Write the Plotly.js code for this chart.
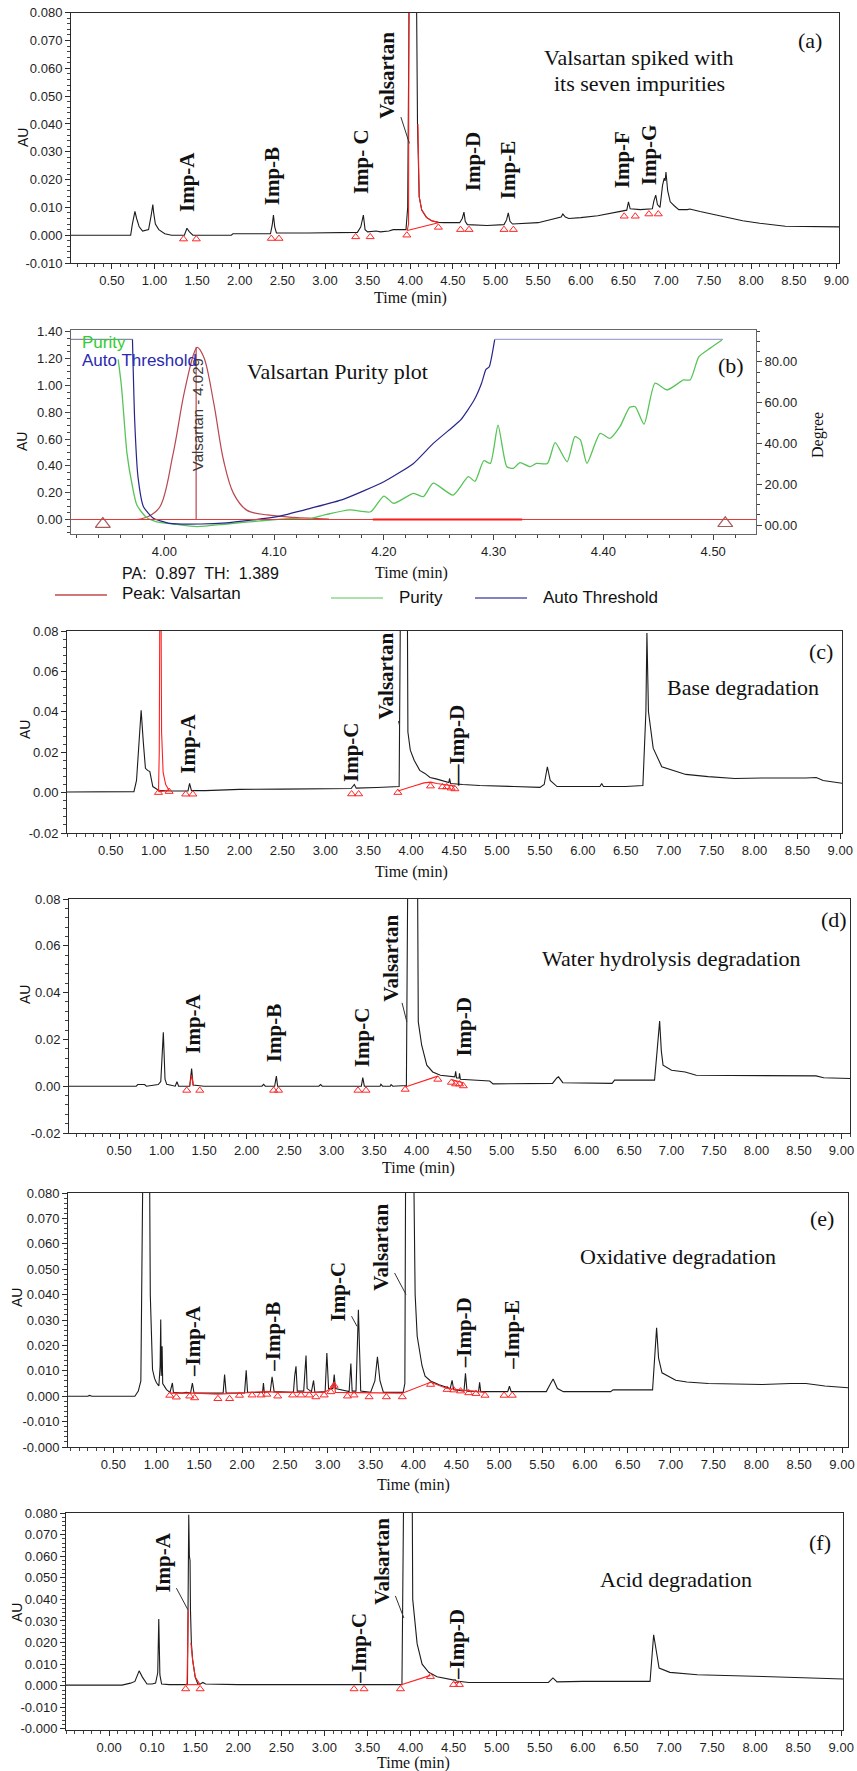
<!DOCTYPE html>
<html><head><meta charset="utf-8">
<script src="https://cdn.plot.ly/plotly-3.0.1.min.js"></script>
<style>html,body{margin:0;padding:0;background:#fff}#chart{width:857px;height:1771px}</style>
</head><body><div id="chart"></div>
<script>
// ================= DATA =================
const timeTicks = [0.5,1.0,1.5,2.0,2.5,3.0,3.5,4.0,4.5,5.0,5.5,6.0,6.5,7.0,7.5,8.0,8.5,9.0];
const timeTickText = ['0.50','1.00','1.50','2.00','2.50','3.00','3.50','4.00','4.50','5.00','5.50','6.00','6.50','7.00','7.50','8.00','8.50','9.00'];
const acidTimeTickText = ['0.00','0.10','1.50','2.00','2.50','3.00','3.50','4.00','4.50','5.00','5.50','6.00','6.50','7.00','7.50','8.00','8.50','9.00'];
const purityTimeTicks = [4.0,4.1,4.2,4.3,4.4,4.5];
const auTicksFine = [-0.01,0,0.01,0.02,0.03,0.04,0.05,0.06,0.07,0.08];
const auTicksCoarse = [-0.02,0,0.02,0.04,0.06,0.08];
const auTicksWide = [-0.02,-0.01,0,0.01,0.02,0.03,0.04,0.05,0.06,0.07,0.08];
const auTicksWideText = ['-0.000','-0.010','0.000','0.010','0.020','0.030','0.040','0.050','0.060','0.070','0.080'];
const purityAuTicks = [0,0.2,0.4,0.6,0.8,1.0,1.2,1.4];
const degreeTicks = [0,20,40,60,80];
const degreeTickText = ['00.00','20.00','40.00','60.00','80.00'];

// (a) Valsartan spiked with impurities  [time, AU]
const spikedTrace = [[0.02,0],[0.72,0],[0.74,0.004],[0.77,0.0086],[0.79,0.006],[0.82,0.003],[0.86,0.0015],[0.93,0.002],[0.96,0.007],[0.98,0.011],[0.99,0.008],[1.01,0.004],[1.05,0.002],[1.12,0.0005],[1.2,0],[1.35,0],[1.38,0.0025],[1.41,0.0012],[1.45,0],[1.9,0],[1.92,0.0005],[2.36,0.0005],[2.38,0.0035],[2.395,0.0072],[2.41,0.003],[2.43,0.0008],[2.8,0.0008],[3.1,0.001],[3.38,0.001],[3.42,0.003],[3.45,0.0072],[3.47,0.002],[3.5,0.0012],[3.6,0.0015],[3.65,0.0012],[3.75,0.0015],[3.8,0.002],[3.95,0.002],[3.97,0.01],[3.99,0.1],[4.07,0.1],[4.085,0.04],[4.095,0.02],[4.105,0.0138],[4.135,0.009],[4.19,0.0064],[4.25,0.0052],[4.33,0.0046],[4.4,0.0045],[4.58,0.0045],[4.61,0.006],[4.63,0.0083],[4.645,0.005],[4.67,0.0038],[4.9,0.0035],[5.1,0.0038],[5.13,0.0055],[5.15,0.008],[5.17,0.005],[5.2,0.004],[5.5,0.0045],[5.7,0.0058],[5.77,0.0065],[5.79,0.0076],[5.82,0.0065],[5.86,0.006],[6.0,0.0063],[6.2,0.007],[6.45,0.0083],[6.54,0.009],[6.56,0.012],[6.58,0.0095],[6.7,0.0092],[6.84,0.0095],[6.86,0.0125],[6.88,0.0144],[6.9,0.011],[6.93,0.01],[6.96,0.018],[6.98,0.0205],[6.99,0.0195],[7.0,0.0227],[7.02,0.016],[7.05,0.012],[7.1,0.0105],[7.15,0.0092],[7.25,0.0092],[7.28,0.0094],[7.4,0.0085],[7.67,0.0066],[7.9,0.0052],[8.1,0.0043],[8.4,0.0032],[9.03,0.003]];
const spikedRed = [[3.965,0.0017],[3.98,0.004],[3.985,0.1],null,[4.09,0.04],[4.095,0.02],[4.105,0.0138],[4.135,0.009],[4.19,0.0064],[4.25,0.0052],[4.33,0.0046],null,[3.965,0.0017],[4.33,0.0045]];
const spikedMarks = [[1.34,-0.0014],[1.49,-0.0014],[2.37,-0.0012],[2.46,-0.0012],[3.36,-0.0006],[3.53,-0.0006],[3.96,0],[4.33,0.0028],[4.59,0.002],[4.69,0.002],[5.10,0.002],[5.21,0.002],[6.51,0.0068],[6.64,0.0068],[6.80,0.0076],[6.91,0.0076]];
const spikedLabels = [
  {t:'Imp-A', x:1.38, y:0.0191}, {t:'Imp-B', x:2.378, y:0.0212}, {t:'Imp- C', x:3.423, y:0.0263},
  {t:'Imp-D', x:4.737, y:0.0266}, {t:'Imp-E', x:5.148, y:0.0234}, {t:'Imp-F', x:6.486, y:0.027},
  {t:'Imp-G', x:6.803, y:0.0288}, {t:'Valsartan', x:3.99, y:0.033, ax:-22, ay:-68}
];

// (b) purity plot
const peakTime = 4.029, peakHeight = 1.284;
const peakX = [3.975,3.985,3.996,4.008,4.018,4.027,4.030,4.036,4.045,4.054,4.063,4.075,4.094,4.118,4.15];
const peakY = [0.0,0.02,0.095,0.49,0.94,1.24,1.284,1.21,0.87,0.44,0.195,0.07,0.034,0.016,0.003];
const purityX = [3.958,3.961,3.966,3.971,3.975,3.983,3.993,4.008,4.030,4.057,4.087,4.118,4.130,4.148,4.169,4.188,4.200,4.209,4.227,4.236,4.245,4.263,4.277,4.283,4.291,4.297,4.304,4.312,4.318,4.324,4.333,4.339,4.349,4.356,4.367,4.374,4.379,4.385,4.397,4.406,4.415,4.424,4.429,4.437,4.447,4.458,4.473,4.479,4.487,4.497,4.508];
const purityY = [81.2,67.8,35.1,18.8,9.8,4.1,1.6,0.5,-0.8,0.5,2.0,3.3,2.8,5.2,7.4,6.5,14.2,10.6,15.5,13.9,20.5,14.7,23.7,21.4,31.5,30.2,49.0,28.6,27.8,30.6,28.6,30.2,30.2,40.4,31.0,43.3,41.7,30.2,44.9,42.5,48.2,57.7,58.0,49.5,69.5,66.2,71.1,71.1,82.5,86.6,90.7];
const thresholdX = [3.915,3.971,3.973,3.976,3.981,3.990,4.005,4.033,4.057,4.081,4.103,4.133,4.163,4.200,4.227,4.245,4.263,4.270,4.282,4.289,4.293,4.296,4.301,4.509];
const thresholdY = [91,91,51.5,23.7,9.0,3.3,0.8,0.5,1.1,2.5,4.1,8.2,12.6,21.2,30.2,40.0,48.2,51.5,61.0,69.5,76.3,77.6,91,91];
const purityMarksX = [3.944,4.511];
const purityMarksY = [-0.034,-0.028];
const heavyBaseline = [4.19,4.326];

// (c) base degradation
const baseTrace = [[-0.01,0.0003],[0.5,0.0003],[0.52,0.0005],[0.77,0.0005],[0.80,0.006],[0.825,0.025],[0.854,0.0408],[0.879,0.025],[0.904,0.012],[0.93,0.011],[0.955,0.0104],[0.99,0.003],[1.056,0.0012],[1.2,0.0008],[1.4,0.0008],[1.418,0.0046],[1.44,0.001],[1.6,0.001],[2.0,0.0016],[2.5,0.0017],[3.0,0.002],[3.3,0.002],[3.338,0.004],[3.36,0.0022],[3.6,0.0025],[3.86,0.003],[3.876,0.1],[3.955,0.1],[3.962,0.03],[3.99,0.021],[4.035,0.016],[4.1,0.011],[4.16,0.0095],[4.22,0.0075],[4.29,0.0068],[4.4,0.0055],[4.44,0.005],[4.447,0.007],[4.46,0.0045],[4.6,0.004],[4.8,0.0035],[5.2,0.003],[5.5,0.0026],[5.55,0.004],[5.587,0.0128],[5.62,0.006],[5.7,0.003],[6.0,0.003],[6.2,0.003],[6.22,0.0045],[6.24,0.003],[6.5,0.003],[6.7,0.0035],[6.735,0.04],[6.747,0.079],[6.765,0.04],[6.82,0.022],[6.92,0.0128],[7.05,0.011],[7.2,0.009],[7.46,0.0079],[7.77,0.007],[8.09,0.0072],[8.41,0.007],[8.6,0.0072],[8.72,0.0075],[8.8,0.006],[9.02,0.0046]];
const baseRed = [[1.056,0.0005],[1.065,0.02],[1.072,0.1],[1.085,0.1],[1.092,0.03],[1.11,0.01],[1.14,0.004],[1.18,0.001],null,[1.056,0.0005],[1.18,0.001],null,[3.845,0.0008],[3.95,0.002],[4.05,0.0035],[4.15,0.0048],[4.225,0.0052],[4.3,0.0045],[4.364,0.004],[4.415,0.0038],[4.466,0.0035],[4.51,0.0032]];
const baseMarks = [[1.056,0],[1.18,0.0005],[1.373,-0.0008],[1.456,-0.0008],[3.306,-0.0007],[3.388,-0.0007],[3.845,0],[4.225,0.0032],[4.364,0.0028],[4.415,0.0028],[4.466,0.0022],[4.51,0.0018]];
const baseLabels = [
  {t:'Imp-A', x:1.405, y:0.0244}, {t:'Imp-C', x:3.306, y:0.0199}, {t:'\u2014Imp-D', x:4.53, y:0.0232},
  {t:'Valsartan', x:3.864, y:0.0334, ax:-13, ay:-49}
];

// (d) water hydrolysis
const waterTrace = [[-0.09,0],[0.7,0],[0.72,0.0007],[0.8,0.0007],[0.82,0],[0.9,0.0005],[0.96,0.0007],[0.99,0.002],[1.02,0.023],[1.04,0.003],[1.06,0.0008],[1.16,0],[1.18,0.0019],[1.2,0],[1.33,0],[1.353,0.0075],[1.37,0.0005],[1.5,0],[2.18,0],[2.2,0.0008],[2.22,0],[2.33,0],[2.35,0.0043],[2.365,0],[2.85,0],[2.87,0.0007],[2.89,0],[3.35,0],[3.367,0.0037],[3.385,0],[3.57,0],[3.58,0.0008],[3.6,0],[3.69,0],[3.7,0.0007],[3.72,0],[3.88,0.0003],[3.898,0.1],[4.01,0.1],[4.02,0.0275],[4.06,0.0175],[4.12,0.009],[4.19,0.0061],[4.28,0.0047],[4.41,0.004],[4.45,0.004],[4.46,0.0064],[4.47,0.0035],[4.5,0.0035],[4.505,0.0055],[4.515,0.003],[4.7,0.0025],[4.86,0.0022],[4.9,0.001],[5.6,0.0012],[5.65,0.0035],[5.67,0.004],[5.72,0.0015],[6.3,0.0012],[6.33,0.0026],[6.8,0.0026],[6.83,0.015],[6.86,0.0278],[6.88,0.015],[6.9,0.009],[7.0,0.0068],[7.16,0.0061],[7.29,0.0047],[8.7,0.0044],[8.79,0.0036],[9.1,0.0033]];
const waterRed = [[1.33,0],[1.353,0.0047],[1.375,0],null,[3.866,-0.0003],[4.25,0.0043],null,[4.41,0.0028],[4.55,0.0015]];
const waterMarks = [[1.295,-0.0018],[1.449,-0.0018],[2.318,-0.0018],[2.376,-0.0018],[3.31,-0.0018],[3.405,-0.0018],[3.866,-0.0014],[4.25,0.0029],[4.41,0.0016],[4.46,0.0009],[4.505,0.0009],[4.55,0.0001]];
const waterLabels = [
  {t:'Imp-A', x:1.372, y:0.0268}, {t:'Imp-B', x:2.318, y:0.0225}, {t:'Imp-C', x:3.354, y:0.0208},
  {t:'Imp-D', x:4.556, y:0.0254}, {t:'Valsartan', x:3.885, y:0.0275, ax:-16, ay:-64}
];

// (e) oxidative degradation
const oxTrace = [[-0.03,0],[0.2,0],[0.22,0.0003],[0.25,0],[0.75,0],[0.79,0.002],[0.82,0.006],[0.846,0.1],[0.92,0.1],[0.93,0.04],[0.956,0.0105],[0.98,0.007],[1.002,0.0053],[1.03,0.004],[1.045,0.012],[1.052,0.0302],[1.058,0.008],[1.064,0.012],[1.068,0.0197],[1.075,0.005],[1.119,0.0026],[1.16,0.0015],[1.188,0.0052],[1.2,0.0015],[1.3,0.0012],[1.35,0.0015],[1.4,0.0012],[1.421,0.0052],[1.44,0.0013],[1.6,0.0012],[1.78,0.0012],[1.797,0.0085],[1.815,0.0012],[2.03,0.0013],[2.049,0.0102],[2.065,0.0015],[2.24,0.0015],[2.25,0.0052],[2.26,0.0015],[2.33,0.0018],[2.351,0.0076],[2.375,0.0018],[2.6,0.0015],[2.615,0.008],[2.63,0.0118],[2.645,0.002],[2.72,0.002],[2.735,0.01],[2.747,0.016],[2.76,0.003],[2.81,0.0018],[2.835,0.0062],[2.85,0.0015],[2.97,0.0018],[2.99,0.017],[3.01,0.003],[3.06,0.003],[3.076,0.0085],[3.09,0.003],[3.25,0.0018],[3.27,0.0129],[3.285,0.002],[3.33,0.002],[3.358,0.034],[3.385,0.002],[3.5,0.0015],[3.55,0.006],[3.58,0.0155],[3.61,0.006],[3.65,0.0015],[3.88,0.0015],[3.9,0.005],[3.91,0.1],[4.0,0.1],[4.02,0.04],[4.044,0.0236],[4.073,0.0184],[4.1,0.012],[4.136,0.0079],[4.2,0.006],[4.3,0.0045],[4.43,0.003],[4.451,0.0062],[4.47,0.0025],[4.59,0.002],[4.607,0.009],[4.625,0.002],[4.76,0.0018],[4.772,0.0055],[4.785,0.0018],[5.1,0.0018],[5.12,0.0039],[5.14,0.0018],[5.55,0.0018],[5.6,0.005],[5.63,0.0068],[5.68,0.003],[5.75,0.0018],[6.3,0.0018],[6.33,0.0025],[6.79,0.0025],[6.82,0.02],[6.837,0.0269],[6.86,0.015],[6.9,0.0092],[7.06,0.0063],[7.19,0.0056],[7.44,0.005],[8.07,0.0046],[8.4,0.005],[8.58,0.005],[8.8,0.004],[9.07,0.0033]];
const oxRed = [[1.157,0.0012],[1.45,0.0012],[1.72,0.0008],[1.97,0.0012],[2.12,0.0015],[2.29,0.0018],[2.42,0.0015],[2.96,0.0015],[3.036,0.003],[3.075,0.0055],[3.09,0.0015],[3.87,0.0012],[4.2,0.0055],[4.393,0.003],[4.835,0.0015]];
const oxMarksX = [1.157,1.234,1.39,1.448,1.719,1.855,1.971,2.118,2.223,2.289,2.417,2.591,2.688,2.785,2.862,2.959,3.036,3.075,3.23,3.307,3.483,3.684,3.87,4.2,4.393,4.47,4.55,4.645,4.73,4.835,5.058,5.153];
const oxMarksY = [0.0003,-0.0004,0,-0.0007,-0.001,-0.001,0.0003,0.0004,0.0004,0.0007,0,0.0004,0.0004,0.0004,-0.0003,0.0004,0.0017,0.0042,0,0.0004,-0.0003,-0.0003,-0.0003,0.0046,0.0026,0.0024,0.002,0.0013,0.001,0.0003,0.0003,0.0003];
const oxLabels = [
  {t:'\u2013Imp-A', x:1.436, y:0.0216}, {t:'\u2013Imp-B', x:2.358, y:0.0233},
  {t:'\u2013Imp-D', x:4.594, y:0.0249}, {t:'\u2013Imp-E', x:5.153, y:0.0243},
  {t:'Imp-C', x:3.342, y:0.0275, ax:-19, ay:-35}, {t:'Valsartan', x:3.914, y:0.040, ax:-25, ay:-47}
];

// (f) acid degradation
const acidTrace = [[0.0,0.0003],[0.3,0.0003],[0.32,0],[0.6,0],[0.65,0.0003],[0.749,0.0012],[0.8,0.002],[0.849,0.0069],[0.887,0.004],[0.94,0.0008],[1.0,0.0008],[1.04,0.0012],[1.065,0.006],[1.077,0.0309],[1.09,0.005],[1.11,0.0008],[1.2,0.0005],[1.41,0.0005],[1.425,0.0792],[1.432,0.06],[1.44,0.058],[1.445,0.035],[1.455,0.02],[1.47,0.012],[1.5,0.004],[1.53,0.0008],[1.56,0.0008],[1.589,0.0015],[1.62,0.0008],[2.0,0.0005],[3.0,0.0005],[3.9,0.0005],[3.922,0.1],[4.018,0.1],[4.025,0.04],[4.076,0.0195],[4.134,0.01],[4.211,0.0062],[4.307,0.0042],[4.48,0.0026],[4.505,0.0026],[4.515,0.0028],[4.53,0.0022],[4.674,0.0015],[5.0,0.0015],[5.6,0.0015],[5.653,0.0036],[5.7,0.0018],[6.0,0.002],[6.78,0.002],[6.822,0.0236],[6.885,0.0082],[7.01,0.0062],[7.33,0.0051],[8.09,0.0043],[8.72,0.0036],[9.02,0.0031]];
const acidRed = [[1.389,0.0005],[1.405,0.001],[1.42,0.035],null,[1.45,0.0198],[1.47,0.012],[1.5,0.004],[1.557,0.0005],null,[1.389,0.0005],[1.557,0.0005],null,[3.883,0.0003],[4.231,0.0048],null,[4.5,0.0015],[4.567,0.0015]];
const acidMarks = [[1.389,-0.0015],[1.557,-0.0015],[3.344,-0.0015],[3.46,-0.0015],[3.883,-0.0015],[4.231,0.0042],[4.5,0.0005],[4.567,0.0005]];
const acidLabels = [
  {t:'\u2013Imp-C', x:3.402, y:0.0171}, {t:'\u2013Imp-D', x:4.547, y:0.0192},
  {t:'Imp-A', x:1.415, y:0.0352, ax:-25, ay:-47}, {t:'Valsartan', x:3.922, y:0.0314, ax:-22, ay:-57}
];

// ================= LAYOUT HELPERS =================
const W = 857, H = 1771;
const serif = '"Liberation Serif", "Times New Roman", serif';
const sans = '"Liberation Sans", Arial, sans-serif';
const xd = (l, r) => [l / W, r / W];
const yd = (t, b) => [1 - b / H, 1 - t / H];
const PX = p => p / W, PY = p => 1 - p / H;
const fmt = (arr, d) => arr.map(v => v.toFixed(d));

function axis(o) {
  return Object.assign({
    showline: true, mirror: true, linecolor: '#2b2b2b', linewidth: 1,
    ticks: 'outside', ticklen: 5, tickwidth: 1, tickcolor: '#2b2b2b',
    tickfont: { family: sans, size: 13, color: '#1e1e1e' }, ticklabeloverflow: 'allow',
    showgrid: false, zeroline: false, fixedrange: true
  }, o);
}
const minorT = (dt) => ({ tickmode: 'linear', tick0: 0, dtick: dt, ticks: 'outside', ticklen: 3, tickwidth: 1, tickcolor: '#444' });
function timeAxis(dom, range, anchor, text) {
  return axis({ domain: dom, range: range, anchor: anchor, tickmode: 'array', tickvals: timeTicks, ticktext: text, minor: minorT(0.1) });
}
function auAxis(dom, range, anchor, vals, text, mdt) {
  return axis({ domain: dom, range: range, anchor: anchor, tickmode: 'array', tickvals: vals, ticktext: text, minor: minorT(mdt) });
}

const traces = [];
const annotations = [];
const shapes = [];

const pairsX = a => a.map(p => p ? p[0] : null);
const pairsY = a => a.map(p => p ? p[1] : null);

function chromPanel(xa, ya, black, red, marksX, marksY, labels) {
  traces.push({ x: pairsX(black), y: pairsY(black), xaxis: xa, yaxis: ya, mode: 'lines',
    line: { color: '#1c1c1c', width: 1.1 }, hoverinfo: 'skip', showlegend: false });
  traces.push({ x: pairsX(red), y: pairsY(red), xaxis: xa, yaxis: ya, mode: 'lines', connectgaps: false,
    line: { color: '#ff2020', width: 1.1 }, hoverinfo: 'skip', showlegend: false });
  traces.push({ x: marksX, y: marksY, xaxis: xa, yaxis: ya, mode: 'markers', cliponaxis: false,
    marker: { symbol: 'triangle-up-open', size: 7, color: '#ff2626', line: { width: 1, color: '#ff2626' } },
    hoverinfo: 'skip', showlegend: false });
  labels.forEach(l => {
    const a = { xref: xa, yref: ya, x: l.x, y: l.y, text: '<b>' + l.t + '</b>', textangle: -90,
      font: { family: serif, size: 21, color: '#111' }, xanchor: 'center', yanchor: 'middle', showarrow: false };
    if (l.ax !== undefined) {
      Object.assign(a, { showarrow: true, ax: l.ax, ay: l.ay, arrowhead: 0, arrowwidth: 1, arrowcolor: '#333', standoff: 0, startstandoff: 0 });
    }
    annotations.push(a);
  });
}

chromPanel('x', 'y', spikedTrace, spikedRed, pairsX(spikedMarks), pairsY(spikedMarks), spikedLabels);
chromPanel('x3', 'y3', baseTrace, baseRed, pairsX(baseMarks), pairsY(baseMarks), baseLabels);
chromPanel('x4', 'y4', waterTrace, waterRed, pairsX(waterMarks), pairsY(waterMarks), waterLabels);
chromPanel('x5', 'y5', oxTrace, oxRed, oxMarksX, oxMarksY, oxLabels);
chromPanel('x6', 'y6', acidTrace, acidRed, pairsX(acidMarks), pairsY(acidMarks), acidLabels);

// ----- (b) purity plot -----
traces.push({ x: peakX, y: peakY, xaxis: 'x2', yaxis: 'y2', mode: 'lines', line: { color: '#b9474f', width: 1.2, shape: 'spline' }, hoverinfo: 'skip', showlegend: false });
traces.push({ x: [peakTime, peakTime], y: [0, peakHeight], xaxis: 'x2', yaxis: 'y2', mode: 'lines', line: { color: '#b9474f', width: 1.2 }, hoverinfo: 'skip', showlegend: false });
traces.push({ x: purityX, y: purityY, xaxis: 'x2', yaxis: 'y7', mode: 'lines', line: { color: '#57c457', width: 1.3, shape: 'spline', smoothing: 0.6 }, hoverinfo: 'skip', showlegend: false });
traces.push({ x: thresholdX.slice(0, 2), y: thresholdY.slice(0, 2), xaxis: 'x2', yaxis: 'y7', mode: 'lines', line: { color: '#8a8aa8', width: 1.2 }, hoverinfo: 'skip', showlegend: false });
traces.push({ x: thresholdX.slice(1, 23), y: thresholdY.slice(1, 23), xaxis: 'x2', yaxis: 'y7', mode: 'lines', line: { color: '#26268a', width: 1.2, shape: 'spline', smoothing: 0.5 }, hoverinfo: 'skip', showlegend: false });
traces.push({ x: thresholdX.slice(22), y: thresholdY.slice(22), xaxis: 'x2', yaxis: 'y7', mode: 'lines', line: { color: '#a4a4d4', width: 1.2 }, hoverinfo: 'skip', showlegend: false });
traces.push({ x: purityMarksX, y: purityMarksY, xaxis: 'x2', yaxis: 'y2', mode: 'markers', cliponaxis: false,
  marker: { symbol: 'triangle-up-open', size: 13, color: '#a85a5a', line: { width: 1.2, color: '#a85a5a' } }, hoverinfo: 'skip', showlegend: false });

shapes.push({ type: 'line', xref: 'x2 domain', yref: 'y2', x0: 0, x1: 1, y0: 0, y1: 0, line: { color: '#e43a3a', width: 1 } });
shapes.push({ type: 'line', xref: 'x2', yref: 'y2', x0: heavyBaseline[0], x1: heavyBaseline[1], y0: 0, y1: 0, line: { color: '#ff1a1a', width: 2 } });

annotations.push({ xref: 'x2', yref: 'y2', x: peakTime + 0.002, y: 0.78, text: 'Valsartan - 4.029', textangle: -90,
  font: { family: sans, size: 15, color: '#3a3a3a' }, showarrow: false, xanchor: 'center', yanchor: 'middle' });

function paperText(text, x, y, font, opts) {
  annotations.push(Object.assign({ xref: 'paper', yref: 'paper', x: PX(x), y: PY(y), text: text, showarrow: false,
    xanchor: 'center', yanchor: 'middle', font: font }, opts || {}));
}
const titleFont = { family: serif, size: 22, color: '#111' };
paperText('Valsartan spiked with', 638, 57, titleFont);
paperText('its seven impurities', 639, 84, titleFont);
paperText('(a)', 810, 40, titleFont);
paperText('Valsartan Purity plot', 337, 371, titleFont);
paperText('(b)', 731, 365, titleFont);
paperText('(c)', 821, 651, titleFont);
paperText('Base degradation', 743, 687, titleFont);
paperText('(d)', 834, 920, titleFont);
paperText('Water hydrolysis degradation', 671, 958, titleFont);
paperText('(e)', 822, 1218, titleFont);
paperText('Oxidative degradation', 678, 1256, titleFont);
paperText('(f)', 820, 1542, titleFont);
paperText('Acid degradation', 676, 1579, titleFont);

const timeFont = { family: serif, size: 16, color: '#111' };
[[410, 298], [411, 573], [411, 872], [418, 1168], [413, 1485], [413, 1763]].forEach(p => paperText('Time (min)', p[0], p[1], timeFont));
const auFont = { family: sans, size: 14, color: '#111' };
[[23, 138], [22, 442], [25, 730], [25, 995], [17, 1298], [17, 1613]].forEach(p => paperText('AU', p[0], p[1], auFont, { textangle: -90 }));
paperText('Degree', 818, 435, { family: serif, size: 16, color: '#111' }, { textangle: -90 });

const legFont = { family: sans, size: 17, color: '#111' };
paperText('Purity', 80, 342, { family: sans, size: 17, color: '#33cc33' }, { xanchor: 'left' });
paperText('Auto Threshold', 80, 360, { family: sans, size: 17, color: '#2a2ab0' }, { xanchor: 'left' });
paperText('PA:\u00a0 0.897\u00a0 TH:\u00a0 1.389', 120, 573, { family: sans, size: 16, color: '#111' }, { xanchor: 'left' });
paperText('Peak: Valsartan', 120, 594, legFont, { xanchor: 'left' });
paperText('Purity', 397, 597, legFont, { xanchor: 'left' });
paperText('Auto Threshold', 541, 597, legFont, { xanchor: 'left' });
const legLine = (x0, x1, y, c) => shapes.push({ type: 'line', xref: 'paper', yref: 'paper', x0: PX(x0), x1: PX(x1), y0: PY(y), y1: PY(y), line: { color: c, width: 1.5 } });
legLine(55, 107, 595, '#c04a4a');
legLine(331, 383, 598, '#8fd98f');
legLine(475, 527, 598, '#5a5ab0');

const layout = {
  width: W, height: H, margin: { l: 0, r: 0, t: 0, b: 0 }, paper_bgcolor: '#fff', plot_bgcolor: '#fff',
  showlegend: false, hovermode: false,
  xaxis: timeAxis(xd(71, 839), [0.02, 9.03], 'y', timeTickText),
  yaxis: auAxis(yd(12.7, 263), [-0.01, 0.08], 'x', auTicksFine, fmt(auTicksFine, 3), 0.002),
  xaxis2: axis({ domain: xd(71, 756), range: [3.915, 4.539], anchor: 'y2', tickmode: 'array', tickvals: purityTimeTicks, ticktext: fmt(purityTimeTicks, 2), minor: minorT(0.02), linecolor: '#666', tickcolor: '#444' }),
  yaxis2: axis({ domain: yd(330, 534), range: [-0.108, 1.413], anchor: 'x2', tickmode: 'array', tickvals: purityAuTicks, ticktext: fmt(purityAuTicks, 2), minor: minorT(0.05), linecolor: '#666', tickcolor: '#444' }),
  yaxis7: axis({ overlaying: 'y2', side: 'right', anchor: 'x2', range: [-4.4, 95.6], tickmode: 'array', tickvals: degreeTicks, ticktext: degreeTickText, minor: minorT(5), showline: false, mirror: false, tickcolor: '#444' }),
  xaxis3: timeAxis(xd(67, 842), [-0.01, 9.02], 'y3', timeTickText),
  yaxis3: auAxis(yd(631, 833), [-0.02, 0.08], 'x3', auTicksCoarse, fmt(auTicksCoarse, 2), 0.004),
  xaxis4: timeAxis(xd(69, 850), [-0.09, 9.1], 'y4', timeTickText),
  yaxis4: auAxis(yd(899, 1133), [-0.02, 0.08], 'x4', auTicksCoarse, fmt(auTicksCoarse, 2), 0.004),
  xaxis5: timeAxis(xd(68, 848), [-0.03, 9.07], 'y5', timeTickText),
  yaxis5: auAxis(yd(1193, 1447), [-0.02, 0.08], 'x5', auTicksWide, auTicksWideText, 0.002),
  xaxis6: timeAxis(xd(66, 843), [0.0, 9.02], 'y6', acidTimeTickText),
  yaxis6: auAxis(yd(1513, 1730), [-0.0205, 0.08], 'x6', auTicksWide, auTicksWideText, 0.002),
  annotations: annotations,
  shapes: shapes
};

Plotly.newPlot('chart', traces, layout, { staticPlot: true, displayModeBar: false });
</script>
</body></html>
